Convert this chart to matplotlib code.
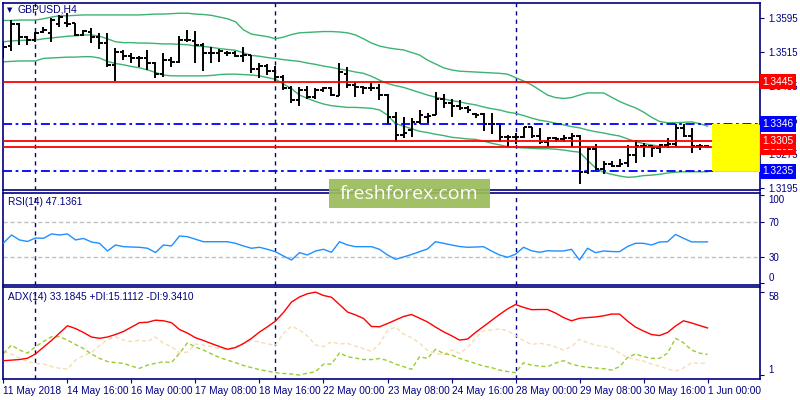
import matplotlib
matplotlib.use("Agg")
import matplotlib.pyplot as plt
from matplotlib.patches import Rectangle
from matplotlib.transforms import blended_transform_factory

plt.rcParams["font.family"] = ["Liberation Sans", "DejaVu Sans"]

# GBPUSD H4, 11 May 2018 08:00 .. 1 Jun 2018 00:00 (89 bars)
open_ = [1.3520, 1.3529, 1.3581, 1.3550, 1.3543, 1.3562, 1.3560, 1.3581, 1.3583, 1.3583,
         1.3555, 1.3562, 1.3550, 1.3536, 1.3485, 1.3515, 1.3506, 1.3501, 1.3501, 1.3489,
         1.3463, 1.3496, 1.3492, 1.3543, 1.3541, 1.3532, 1.3513, 1.3513, 1.3513, 1.3513,
         1.3506, 1.3508, 1.3475, 1.3482, 1.3470, 1.3456, 1.3431, 1.3402, 1.3426, 1.3409,
         1.3426, 1.3431, 1.3412, 1.3463, 1.3438, 1.3433, 1.3431, 1.3431, 1.3414, 1.3362,
         1.3320, 1.3332, 1.3351, 1.3362, 1.3367, 1.3405, 1.3395, 1.3388, 1.3384, 1.3369,
         1.3369, 1.3346, 1.3346, 1.3315, 1.3315, 1.3315, 1.3339, 1.3318, 1.3304, 1.3313,
         1.3311, 1.3313, 1.3318, 1.3233, 1.3287, 1.3240, 1.3252, 1.3247, 1.3254, 1.3273,
         1.3294, 1.3294, 1.3290, 1.3297, 1.3299, 1.3337, 1.3318, 1.3294, 1.3294]
high = [1.3539, 1.3590, 1.3583, 1.3553, 1.3562, 1.3574, 1.3595, 1.3602, 1.3607, 1.3583,
        1.3567, 1.3572, 1.3560, 1.3560, 1.3525, 1.3520, 1.3513, 1.3506, 1.3520, 1.3492,
        1.3513, 1.3503, 1.3553, 1.3567, 1.3564, 1.3536, 1.3527, 1.3522, 1.3517, 1.3517,
        1.3527, 1.3508, 1.3489, 1.3487, 1.3482, 1.3461, 1.3435, 1.3433, 1.3435, 1.3431,
        1.3433, 1.3433, 1.3489, 1.3480, 1.3445, 1.3435, 1.3442, 1.3440, 1.3416, 1.3374,
        1.3362, 1.3360, 1.3379, 1.3372, 1.3421, 1.3416, 1.3405, 1.3402, 1.3388, 1.3372,
        1.3372, 1.3372, 1.3348, 1.3320, 1.3325, 1.3339, 1.3339, 1.3337, 1.3315, 1.3315,
        1.3320, 1.3325, 1.3320, 1.3292, 1.3299, 1.3259, 1.3259, 1.3264, 1.3297, 1.3308,
        1.3301, 1.3297, 1.3299, 1.3313, 1.3346, 1.3346, 1.3337, 1.3299, 1.3297]
low = [1.3501, 1.3517, 1.3532, 1.3532, 1.3539, 1.3560, 1.3539, 1.3574, 1.3574, 1.3553,
       1.3553, 1.3536, 1.3522, 1.3480, 1.3447, 1.3496, 1.3489, 1.3480, 1.3473, 1.3454,
       1.3456, 1.3480, 1.3489, 1.3539, 1.3489, 1.3470, 1.3489, 1.3492, 1.3506, 1.3503,
       1.3492, 1.3466, 1.3454, 1.3461, 1.3445, 1.3426, 1.3395, 1.3388, 1.3405, 1.3405,
       1.3421, 1.3412, 1.3412, 1.3431, 1.3409, 1.3416, 1.3423, 1.3402, 1.3346, 1.3304,
       1.3313, 1.3315, 1.3346, 1.3348, 1.3367, 1.3384, 1.3362, 1.3379, 1.3372, 1.3360,
       1.3329, 1.3322, 1.3304, 1.3292, 1.3299, 1.3313, 1.3313, 1.3299, 1.3292, 1.3304,
       1.3304, 1.3292, 1.3205, 1.3228, 1.3235, 1.3228, 1.3245, 1.3245, 1.3245, 1.3254,
       1.3268, 1.3268, 1.3278, 1.3290, 1.3292, 1.3315, 1.3278, 1.3285, 1.3290]
close = [1.3527, 1.3581, 1.3550, 1.3543, 1.3560, 1.3567, 1.3590, 1.3597, 1.3581, 1.3555,
         1.3564, 1.3550, 1.3536, 1.3485, 1.3515, 1.3506, 1.3501, 1.3501, 1.3489, 1.3463,
         1.3496, 1.3492, 1.3543, 1.3543, 1.3532, 1.3513, 1.3513, 1.3517, 1.3513, 1.3506,
         1.3508, 1.3475, 1.3482, 1.3470, 1.3456, 1.3431, 1.3402, 1.3426, 1.3409, 1.3426,
         1.3431, 1.3414, 1.3468, 1.3438, 1.3433, 1.3431, 1.3431, 1.3414, 1.3362, 1.3320,
         1.3325, 1.3351, 1.3367, 1.3365, 1.3405, 1.3395, 1.3388, 1.3384, 1.3379, 1.3367,
         1.3346, 1.3346, 1.3315, 1.3315, 1.3315, 1.3339, 1.3318, 1.3304, 1.3313, 1.3311,
         1.3313, 1.3318, 1.3233, 1.3287, 1.3240, 1.3252, 1.3247, 1.3252, 1.3273, 1.3294,
         1.3294, 1.3290, 1.3297, 1.3299, 1.3337, 1.3318, 1.3294, 1.3294, 1.3292]

# Bollinger bands
bb_up = [1.3589, 1.3589, 1.3590, 1.3590, 1.3590, 1.3593, 1.3597, 1.3600, 1.3600, 1.3601,
         1.3602, 1.3602, 1.3602, 1.3602, 1.3602, 1.3602, 1.3602, 1.3602, 1.3603, 1.3604,
         1.3604, 1.3605, 1.3606, 1.3606, 1.3604, 1.3603, 1.3601, 1.3597, 1.3593, 1.3586,
         1.3567, 1.3557, 1.3554, 1.3551, 1.3546, 1.3550, 1.3556, 1.3560, 1.3561, 1.3562,
         1.3563, 1.3563, 1.3562, 1.3560, 1.3555, 1.3546, 1.3536, 1.3529, 1.3525, 1.3522,
         1.3520, 1.3514, 1.3508, 1.3496, 1.3487, 1.3478, 1.3473, 1.3470, 1.3469, 1.3468,
         1.3467, 1.3466, 1.3465, 1.3463, 1.3455, 1.3447, 1.3438, 1.3426, 1.3414, 1.3408,
         1.3406, 1.3408, 1.3414, 1.3419, 1.3419, 1.3419, 1.3409, 1.3399, 1.3391, 1.3384,
         1.3374, 1.3362, 1.3352, 1.3349, 1.3349, 1.3350, 1.3351, 1.3347, 1.3341]
bb_mid = [1.3539, 1.3541, 1.3542, 1.3543, 1.3543, 1.3546, 1.3548, 1.3550, 1.3552, 1.3553,
          1.3555, 1.3555, 1.3552, 1.3546, 1.3539, 1.3537, 1.3537, 1.3536, 1.3536, 1.3535,
          1.3534, 1.3534, 1.3533, 1.3532, 1.3529, 1.3528, 1.3526, 1.3523, 1.3521, 1.3519,
          1.3513, 1.3507, 1.3505, 1.3502, 1.3500, 1.3497, 1.3495, 1.3493, 1.3489, 1.3486,
          1.3482, 1.3479, 1.3475, 1.3472, 1.3468, 1.3465, 1.3458, 1.3449, 1.3441, 1.3436,
          1.3432, 1.3426, 1.3420, 1.3414, 1.3409, 1.3405, 1.3401, 1.3398, 1.3394, 1.3391,
          1.3386, 1.3382, 1.3379, 1.3374, 1.3371, 1.3366, 1.3360, 1.3355, 1.3352, 1.3348,
          1.3344, 1.3340, 1.3337, 1.3332, 1.3328, 1.3325, 1.3321, 1.3318, 1.3311, 1.3305,
          1.3300, 1.3297, 1.3294, 1.3293, 1.3293, 1.3293, 1.3293, 1.3292, 1.3291]
bb_low = [1.3492, 1.3493, 1.3494, 1.3494, 1.3494, 1.3500, 1.3501, 1.3502, 1.3503, 1.3503,
          1.3504, 1.3504, 1.3501, 1.3493, 1.3488, 1.3485, 1.3481, 1.3478, 1.3473, 1.3467,
          1.3461, 1.3459, 1.3459, 1.3459, 1.3459, 1.3459, 1.3460, 1.3462, 1.3463, 1.3463,
          1.3462, 1.3461, 1.3459, 1.3455, 1.3451, 1.3440, 1.3429, 1.3414, 1.3406, 1.3399,
          1.3393, 1.3389, 1.3387, 1.3385, 1.3385, 1.3384, 1.3383, 1.3379, 1.3367, 1.3347,
          1.3341, 1.3335, 1.3329, 1.3326, 1.3322, 1.3319, 1.3315, 1.3313, 1.3311, 1.3310,
          1.3306, 1.3301, 1.3297, 1.3293, 1.3291, 1.3290, 1.3289, 1.3288, 1.3288, 1.3287,
          1.3285, 1.3282, 1.3280, 1.3261, 1.3243, 1.3233, 1.3228, 1.3224, 1.3221, 1.3222,
          1.3225, 1.3226, 1.3228, 1.3231, 1.3233, 1.3234, 1.3234, 1.3234, 1.3234]

rsi = [45.9, 54.9, 49.3, 47.6, 51.5, 51.2, 56.1, 54.9, 56.1, 49.3,
       51.0, 47.0, 45.5, 36.8, 43.6, 41.7, 41.3, 41.0, 39.9, 35.1,
       43.6, 42.5, 53.8, 53.0, 50.1, 47.3, 47.3, 47.3, 47.3, 45.5,
       42.5, 39.9, 41.0, 38.7, 36.0, 31.1, 26.6, 34.9, 32.3, 36.8,
       38.7, 35.3, 47.3, 43.6, 41.7, 41.7, 41.7, 38.7, 32.3, 27.4,
       30.0, 32.8, 36.0, 39.1, 47.3, 45.5, 43.6, 41.9, 41.0, 41.3,
       41.7, 36.8, 32.3, 29.7, 33.1, 41.0, 37.1, 35.3, 37.1, 36.8,
       36.8, 38.7, 26.6, 39.9, 34.9, 36.8, 36.2, 36.0, 41.9, 45.5,
       45.5, 43.6, 47.0, 47.3, 55.5, 51.2, 47.1, 47.1, 47.1]

adx = [10.8, 11.2, 11.6, 12.5, 15.4, 20.1, 24.6, 29.7, 34.7, 32.8,
       30.1, 27.0, 26.1, 27.0, 28.7, 30.8, 33.8, 36.8, 37.1, 38.5,
       38.1, 36.8, 32.1, 29.7, 26.5, 24.6, 22.5, 20.5, 18.6, 19.8,
       22.5, 26.1, 30.4, 34.0, 37.9, 43.8, 50.9, 54.4, 56.6, 57.7,
       55.4, 54.2, 49.2, 44.1, 42.1, 39.7, 34.2, 34.0, 36.2, 38.6,
       41.0, 42.4, 39.9, 37.3, 33.8, 30.6, 27.9, 24.9, 25.6, 30.1,
       34.2, 38.3, 42.4, 46.2, 49.2, 47.3, 45.7, 45.8, 45.8, 43.4,
       40.3, 38.1, 39.8, 40.3, 40.7, 41.5, 42.7, 42.7, 37.9, 33.8,
       31.1, 28.7, 28.0, 30.1, 34.5, 38.1, 36.6, 34.9, 33.2]
plus_di = [15.8, 21.5, 18.1, 16.0, 20.4, 23.9, 27.2, 27.2, 24.9, 21.9,
           19.1, 15.4, 12.4, 10.2, 9.5, 9.0, 7.1, 5.6, 7.8, 9.0,
           10.1, 9.5, 15.8, 23.1, 20.1, 18.1, 15.4, 13.0, 11.2, 9.5,
           7.5, 6.1, 4.7, 3.7, 2.6, 2.1, 1.7, 1.0, 2.3, 3.2,
           8.5, 8.5, 16.2, 13.5, 12.6, 11.6, 11.6, 12.3, 10.9, 8.5,
           6.8, 4.9, 13.5, 12.4, 18.6, 15.8, 14.7, 12.4, 10.6, 8.9,
           7.1, 6.1, 4.4, 3.4, 2.6, 9.4, 7.8, 7.1, 6.7, 9.2,
           10.8, 8.5, 7.1, 6.3, 5.8, 5.4, 4.4, 6.7, 13.0, 15.4,
           13.6, 12.4, 12.4, 16.0, 26.1, 23.1, 18.1, 16.0, 15.1]
minus_di = [16.9, 15.4, 12.6, 10.1, 9.0, 8.5, 6.8, 5.6, 5.1, 11.2,
            14.3, 16.4, 21.2, 25.3, 27.0, 24.9, 23.9, 24.9, 23.9, 27.0,
            22.7, 20.5, 16.0, 16.7, 22.2, 21.5, 20.5, 19.1, 18.4, 20.5,
            22.9, 24.6, 23.6, 22.2, 21.5, 29.5, 34.5, 31.8, 27.7, 21.5,
            20.4, 23.8, 22.2, 22.7, 20.8, 19.1, 17.1, 22.5, 31.4, 33.8,
            29.0, 26.6, 22.9, 17.8, 15.8, 14.7, 18.1, 15.8, 19.8, 26.3,
            31.4, 31.8, 32.5, 31.4, 28.2, 24.5, 21.9, 22.7, 21.9, 20.1,
            18.1, 20.5, 25.4, 23.2, 21.5, 20.6, 19.5, 16.0, 13.0, 11.6,
            10.6, 8.5, 7.1, 5.1, 3.7, 5.8, 9.5, 8.9, 9.3]

time_labels = ["11 May 2018", "14 May 16:00", "16 May 00:00", "17 May 08:00",
               "18 May 16:00", "22 May 00:00", "23 May 08:00", "24 May 16:00",
               "28 May 00:00", "29 May 08:00", "30 May 16:00", "1 Jun 00:00"]
label_step = 8
week_starts = [4, 34, 64]  # bar index of Monday 00:00

red_levels = [1.3445, 1.3305]
blue_levels = [1.3346, 1.3235]
bid = 1.3292
zone = (1.3235, 1.3346)
price_ticks = [1.3195, 1.3275, 1.3355, 1.3435, 1.3515, 1.3595]

NAVY = "#000080"
x = list(range(len(close)))

fig = plt.figure(figsize=(8, 4), dpi=100)
ax_p = fig.add_axes([0.00375, 0.52375, 0.94625, 0.46875])
ax_r = fig.add_axes([0.00375, 0.2875, 0.94625, 0.23075])
ax_a = fig.add_axes([0.00375, 0.05325, 0.94625, 0.22925])

for ax in (ax_p, ax_r, ax_a):
    ax.set_xlim(-0.06, 94.56)
    for s in ax.spines.values():
        s.set_color(NAVY)
        s.set_linewidth(1.2)
    ax.yaxis.tick_right()
    ax.tick_params(axis="y", colors=NAVY, labelsize=7, length=3, width=0.8, pad=3)
    ax.tick_params(axis="x", bottom=False, labelbottom=False)
    for w in week_starts:
        ax.axvline(w, color=NAVY, lw=1, ls=(0, (3, 3)), zorder=1)

# price panel
ax_p.set_ylim(1.3190, 1.3630)
ax_p.set_yticks(price_ticks)
ax_p.set_yticklabels([f"{v:.4f}" for v in price_ticks])
ax_p.plot(x, bb_up, color="#3cb371", lw=1, zorder=2)
ax_p.plot(x, bb_mid, color="#3cb371", lw=1, zorder=2)
ax_p.plot(x, bb_low, color="#3cb371", lw=1, zorder=2)
ax_p.vlines(x, low, high, color="black", lw=1.4, zorder=3)
ax_p.hlines(open_, [i - 0.42 for i in x], x, color="black", lw=1.4, zorder=3)
ax_p.hlines(close, x, [i + 0.42 for i in x], color="black", lw=1.4, zorder=3)

for lv in red_levels + [bid]:
    ax_p.axhline(lv, color="red", lw=1.3, zorder=4)
for lv in blue_levels:
    ax_p.axhline(lv, color="blue", lw=1.3, ls=(0, (5, 2, 1.5, 2)), zorder=4)

ax_p.add_patch(Rectangle((88.65, zone[0] - 0.00012), 5.9, zone[1] - zone[0],
                         facecolor="#cfcfcf", edgecolor="none", zorder=4.5))
ax_p.add_patch(Rectangle((88.5, zone[0]), 5.9, zone[1] - zone[0],
                         facecolor="#ffff00", edgecolor="none", zorder=5))

tr = blended_transform_factory(ax_p.transAxes, ax_p.transData)
boxes = [(1.3445, "red"), (1.3346, "blue"), (bid, "red"), (1.3305, "red"), (1.3235, "blue")]
for lv, col in boxes:
    ax_p.text(1.0035, lv, f"{lv:.4f}", transform=tr, ha="left", va="center",
              color="white", fontsize=7.3, clip_on=False, zorder=6,
              bbox=dict(boxstyle="square,pad=0.25", facecolor=col, edgecolor="none"))

ax_p.text(0.0092, 0.963, "\u25bc", transform=ax_p.transAxes, fontsize=5,
          color=NAVY, ha="center", va="center", family=["DejaVu Sans"])
ax_p.text(0.0198, 0.963, "GBPUSD,H4", transform=ax_p.transAxes, fontsize=7.5,
          color=NAVY, ha="left", va="center")

# RSI panel
ax_r.set_ylim(-1.7, 102.8)
ax_r.set_yticks([0, 30, 70, 100])
ax_r.set_yticklabels(["0", "30", "70", "100"])
lbls = ax_r.get_yticklabels()
lbls[0].set_va("bottom")
lbls[3].set_va("top")
for lv in (30, 70):
    ax_r.axhline(lv, color="#c0c0c0", lw=1, ls=(0, (3, 2)), zorder=1)
ax_r.plot(x, rsi, color="#1e90ff", lw=1, zorder=3)
ax_r.text(0.0066, 0.9, f"RSI(14) 47.1361", transform=ax_r.transAxes,
          fontsize=7.3, color=NAVY, ha="left", va="center")

# ADX panel
ax_a.set_ylim(-1.5, 61.2)
ax_a.set_yticks([1, 58])
ax_a.set_yticklabels(["1", "58"])
lbls = ax_a.get_yticklabels()
lbls[0].set_va("bottom")
lbls[1].set_va("top")
ax_a.plot(x, minus_di, color="#f5deb3", lw=1, ls=(0, (3, 2)), zorder=2)
ax_a.plot(x, plus_di, color="#9acd32", lw=1, ls=(0, (3, 2)), zorder=2)
ax_a.plot(x, adx, color="red", lw=1, zorder=3)
ax_a.text(0.0066, 0.89, "ADX(14) 33.1845 +DI:15.1112 -DI:9.3410",
          transform=ax_a.transAxes, fontsize=7.3, color=NAVY, ha="left", va="center")

tick_pos = list(range(0, len(x), label_step))
ax_a.set_xticks(tick_pos)
ax_a.set_xticklabels(time_labels, ha="left")
ax_a.tick_params(axis="x", bottom=True, labelbottom=True, colors=NAVY,
                 labelsize=7.3, length=3, width=0.8, pad=2)

# watermark
fig.add_artist(Rectangle((0.41125, 0.47925), 0.20125, 0.07325, transform=fig.transFigure,
                         facecolor="#9bbb59", edgecolor="none", alpha=0.93, zorder=10))
fig.text(0.5119, 0.516, "freshforex.com", fontsize=14, color="white",
         ha="center", va="center", family=["Open Sans", "DejaVu Sans"], zorder=11)

fig.savefig("out.png", dpi=100)
